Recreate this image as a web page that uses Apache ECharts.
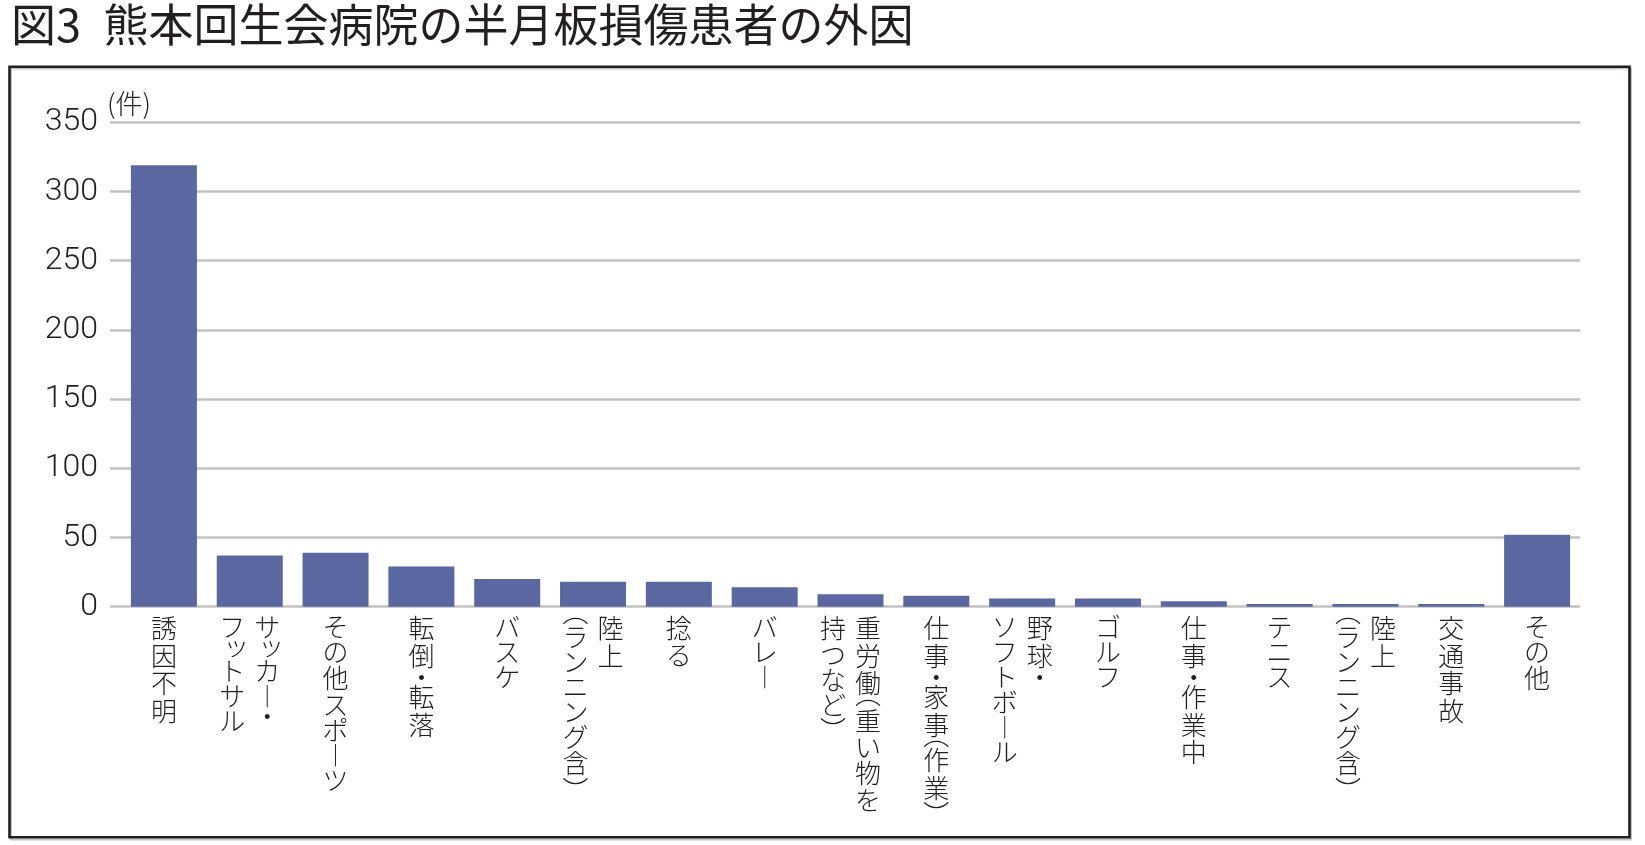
<!DOCTYPE html>
<html>
<head>
<meta charset="utf-8">
<script src="https://cdn.jsdelivr.net/npm/echarts@6/dist/echarts.min.js"></script>
<style>
html,body{margin:0;padding:0;background:#fff;}
#chart{width:1645px;height:845px;}
</style>
</head>
<body>
<div id="chart"></div>
<script>
// ---- data ----
const titleText = '図3\u2002熊本回生会病院の半月板損傷患者の外因';
const unitLabel = '(件)';
// columns of vertical labels separated by "\n" (first column = rightmost)
const categories = [
  '誘因不明',
  'サッカー・\nフットサル',
  'その他スポーツ',
  '転倒・転落',
  'バスケ',
  '陸上\n(ランニング含)',
  '捻る',
  'バレー',
  '重労働(重い物を\n持つなど)',
  '仕事・家事(作業)',
  '野球・\nソフトボール',
  'ゴルフ',
  '仕事・作業中',
  'テニス',
  '陸上\n(ランニング含)',
  '交通事故',
  'その他'
];
const counts = [319, 37, 39, 29, 20, 18, 18, 14, 9, 8, 6, 6, 4, 2, 2, 2, 52];
const yMin = 0, yMax = 350, yStep = 50;

// ---- styles ----
const INK = '#231f20';
const CJK = '"Noto Sans CJK JP", "Noto Sans", sans-serif';
const COL_W = 35;
const VMAP = {'ー': '︱', '(': '︵', ')': '︶', '（': '︵', '）': '︶'};
const SMALL = 'ッァィゥェォャュョっゃゅょぁぃぅぇぉ';

function cls(ch) {
  if (ch === '・') return 'dot';
  if (ch === '(' || ch === '（') return 'parO';
  if (ch === ')' || ch === '）') return 'parC';
  if (SMALL.indexOf(ch) >= 0) return 'small';
  if (/[\u3040-\u30ff]/.test(ch)) return 'kana';
  return 'kanji';
}
function column(col, side) {
  return Array.from(col).map(function (ch) {
    const t = '{' + cls(ch) + '|' + (VMAP[ch] || ch) + '}';
    if (side === 1) return '{sp| }' + t;
    if (side === -1) return t + '{sp| }';
    return t;
  }).join('\n');
}
function richStyles() {
  const base = {fontSize: 26, width: COL_W, align: 'center', color: INK, fontFamily: CJK, fontWeight: 300};
  return {
    kanji: Object.assign({}, base, {lineHeight: 27.5}),
    kana: Object.assign({}, base, {lineHeight: 25}),
    small: Object.assign({}, base, {lineHeight: 19, padding: [0, 0, 6, 8]}),
    dot: Object.assign({}, base, {lineHeight: 14}),
    parO: Object.assign({}, base, {lineHeight: 8, padding: [0, 0, 16, 0]}),
    parC: Object.assign({}, base, {lineHeight: 8, padding: [16, 0, 0, 0]}),
    sp: {width: COL_W, fontSize: 10, lineHeight: 10}
  };
}

const chart = echarts.init(document.getElementById('chart'), null, {renderer: 'canvas'});
const gridTop = 122.3, gridBottom = 845 - 606.7, gridRight = 1645 - 1580;

chart.setOption({
  animation: false,
  backgroundColor: '#fff',
  title: {
    text: titleText,
    left: 6,
    top: -3,
    textStyle: {fontSize: 45, fontWeight: 400, color: INK, fontFamily: CJK}
  },
  graphic: [
    {type: 'rect', shape: {x: 11, y: 68.5, width: 1620, height: 771}, style: {fill: null, stroke: '#c4c4c4', lineWidth: 2}, z: -1},
    {type: 'rect', shape: {x: 9.5, y: 66.7, width: 1620, height: 770.6}, style: {fill: null, stroke: INK, lineWidth: 2.6}, z: 0}
  ],
  grid: [
    {left: 110, right: gridRight, top: gridTop, bottom: gridBottom},
    {left: 121, right: gridRight, top: gridTop, bottom: gridBottom}
  ],
  xAxis: [
    {gridIndex: 0, type: 'value', show: false},
    {
      gridIndex: 1, type: 'category', position: 'bottom', data: categories,
      axisLine: {show: false}, axisTick: {show: false},
      axisLabel: {
        interval: 0, margin: 8,
        formatter: function (v) {
          const cols = v.split('\n');
          return cols.length === 1 ? column(cols[0], 0) : column(cols[0], 1);
        },
        rich: richStyles()
      }
    },
    {
      gridIndex: 1, type: 'category', position: 'bottom', data: categories,
      axisLine: {show: false}, axisTick: {show: false},
      axisLabel: {
        interval: 0, margin: 8,
        formatter: function (v) {
          const cols = v.split('\n');
          return cols.length === 1 ? '' : column(cols[1], -1);
        },
        rich: richStyles()
      }
    }
  ],
  yAxis: [
    {
      gridIndex: 0, type: 'value', min: yMin, max: yMax, interval: yStep,
      axisLine: {show: false}, axisTick: {show: false},
      splitLine: {lineStyle: {color: '#c2c2c2', width: 2.5}},
      axisLabel: {margin: 12, fontSize: 32, color: INK, fontFamily: 'Roboto, "Noto Sans", sans-serif', fontWeight: 300},
      name: unitLabel, nameLocation: 'end', nameGap: 5,
      nameTextStyle: {align: 'left', verticalAlign: 'bottom', fontSize: 27, color: INK, fontFamily: CJK, fontWeight: 300, padding: [0, 0, 0, -3]}
    },
    {gridIndex: 1, type: 'value', min: yMin, max: yMax, interval: yStep, show: false}
  ],
  series: [{
    type: 'bar', xAxisIndex: 1, yAxisIndex: 1, data: counts,
    barWidth: 66, itemStyle: {color: '#5b67a1'}, z: 3
  }]
});
</script>
</body>
</html>
